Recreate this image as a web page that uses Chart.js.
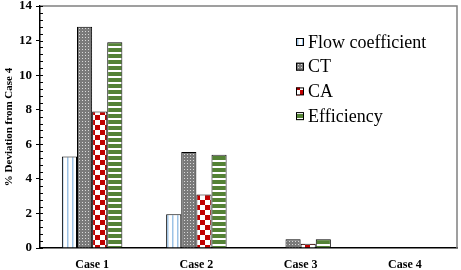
<!DOCTYPE html>
<html>
<head>
<meta charset="utf-8">
<script src="https://cdn.jsdelivr.net/npm/chart.js@4"></script>
<style>
  html, body { margin: 0; padding: 0; background: #fff; }
  #wrap { width: 461px; height: 270px; }
</style>
</head>
<body>
<div id="wrap"><canvas id="chart" width="461" height="270"></canvas></div>
<script>
// data
const categories = ['Case 1', 'Case 2', 'Case 3', 'Case 4'];
const flowCoefficient = [5.3, 1.95, 0, 0];
const ct = [12.8, 5.55, 0.5, 0];
const ca = [7.9, 3.1, 0.25, 0];
const efficiency = [11.9, 5.4, 0.5, 0];
const seriesNames = ['Flow coefficient', 'CT', 'CA', 'Efficiency'];
const yTicks = [0, 2, 4, 6, 8, 10, 12, 14];

function makePattern(w, h, draw) {
  const c = document.createElement('canvas');
  c.width = w; c.height = h;
  const g = c.getContext('2d');
  draw(g);
  return document.getElementById('chart').getContext('2d').createPattern(c, 'repeat');
}

const fcPat = makePattern(5, 5, g => {
  g.fillStyle = '#fff'; g.fillRect(0, 0, 5, 5);
  g.fillStyle = '#9dc3e6'; g.fillRect(2, 0, 1.5, 5);
});
const ctPat = makePattern(3, 3, g => {
  g.fillStyle = '#7a7a7a'; g.fillRect(0, 0, 3, 3);
  g.fillStyle = '#d9d9d9'; g.fillRect(1, 1, 1, 1);
});
const caPat = makePattern(10, 10, g => {
  g.fillStyle = '#fff'; g.fillRect(0, 0, 10, 10);
  g.fillStyle = '#c00000'; g.fillRect(0, 0, 5, 5); g.fillRect(5, 5, 5, 5);
});
const effPat = makePattern(6, 6, g => {
  g.fillStyle = '#fff'; g.fillRect(0, 0, 6, 6);
  g.fillStyle = '#548235'; g.fillRect(0, 0, 6, 4);
});
const patterns = [fcPat, ctPat, caPat, effPat];

// frame, minor ticks and legend
const extras = {
  id: 'extras',
  afterDraw(chart) {
    const ctx = chart.ctx, a = chart.chartArea, y = chart.scales.y;
    ctx.save();
    ctx.strokeStyle = '#808080'; ctx.lineWidth = 1.5;
    ctx.beginPath();
    ctx.moveTo(a.left, a.top); ctx.lineTo(a.right, a.top); ctx.lineTo(a.right, a.bottom);
    ctx.stroke();
    ctx.strokeStyle = '#000'; ctx.lineWidth = 1;
    for (let k = 0; k <= 35; k++) {
      const py = Math.round(y.getPixelForValue(k * 0.4)) + 0.5;
      ctx.beginPath();
      ctx.moveTo(a.left, py); ctx.lineTo(a.left + 3, py);
      ctx.stroke();
    }
    yTicks.forEach(v => {
      const py = Math.round(y.getPixelForValue(v)) + 0.5;
      ctx.beginPath();
      ctx.moveTo(a.left, py); ctx.lineTo(a.left + 3, py);
      ctx.stroke();
    });
    // legend
    ctx.font = '18px "Liberation Serif"';
    ctx.textBaseline = 'middle';
    const lx = 296, ly0 = 42, step = 24.7;
    chart.data.datasets.forEach((ds, i) => {
      const cy = ly0 + i * step;
      ctx.fillStyle = ds.backgroundColor;
      ctx.fillRect(lx, cy - 4, 8, 8);
      ctx.strokeStyle = '#000'; ctx.lineWidth = 1;
      ctx.strokeRect(lx + 0.5, cy - 3.5, 7, 7);
      ctx.fillStyle = '#000';
      ctx.fillText(ds.label, lx + 12, cy + 1);
    });
    ctx.restore();
  }
};

const seriesData = [flowCoefficient, ct, ca, efficiency];
new Chart(document.getElementById('chart'), {
  type: 'bar',
  data: {
    labels: categories,
    datasets: seriesNames.map((name, i) => ({
      label: name,
      data: seriesData[i],
      backgroundColor: patterns[i],
      borderColor: '#000',
      borderWidth: 1,
      borderSkipped: 'bottom',
      barPercentage: 1,
      categoryPercentage: 0.58
    }))
  },
  options: {
    responsive: false,
    animation: false,
    layout: { padding: { top: 6, right: 4 } },
    plugins: { legend: { display: false }, tooltip: { enabled: false } },
    scales: {
      x: {
        grid: { display: false },
        border: { color: '#000', width: 1.5 },
        ticks: { color: '#000', font: { family: 'Liberation Serif', size: 12, weight: 'bold' }, padding: 2 },
        afterFit(s) { s.height = 22; }
      },
      y: {
        min: 0, max: 14,
        afterBuildTicks(s) { s.ticks = yTicks.map(v => ({ value: v })); },
        grid: { drawOnChartArea: false, color: '#000', tickLength: 4 },
        border: { color: '#000', width: 1.5 },
        ticks: { color: '#000', font: { family: 'Liberation Serif', size: 13, weight: 'bold' }, padding: 4 },
        title: { display: true, text: '% Deviation from Case 4', color: '#000',
                 font: { family: 'Liberation Serif', size: 11, weight: 'bold' }, padding: { top: 3, bottom: 0 } },
        afterFit(s) { s.width = 40; s.paddingTop = 0; s.paddingBottom = 0; }
      }
    }
  },
  plugins: [extras]
});
</script>
</body>
</html>
